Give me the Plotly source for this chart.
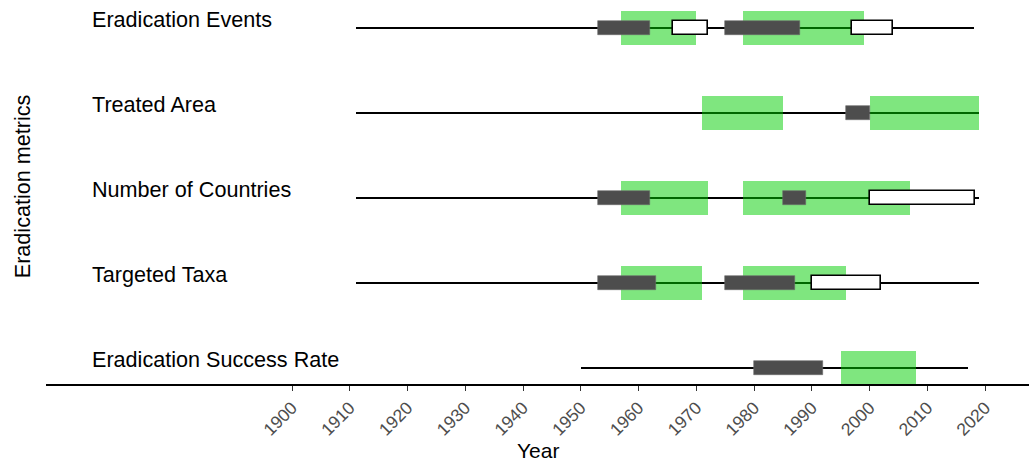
import plotly.graph_objects as go

# ---------------- data ----------------
metrics = ["Eradication Events", "Treated Area", "Number of Countries",
           "Targeted Taxa", "Eradication Success Rate"]
row_pos = [5, 4, 3, 2, 1]

line_start = [1911, 1911, 1911, 1911, 1950]
line_end = [2018, 2019, 2019, 2019, 2017]

green_metric = ["Eradication Events", "Eradication Events", "Treated Area", "Treated Area",
                "Number of Countries", "Number of Countries", "Targeted Taxa", "Targeted Taxa",
                "Eradication Success Rate"]
green_start = [1957, 1978, 1971, 2000, 1957, 1978, 1957, 1978, 1995]
green_end = [1970, 1999, 1985, 2019, 1972, 2007, 1971, 1996, 2008]

dark_metric = ["Eradication Events", "Eradication Events", "Treated Area",
               "Number of Countries", "Number of Countries", "Targeted Taxa", "Targeted Taxa",
               "Eradication Success Rate"]
dark_start = [1953, 1975, 1996, 1953, 1985, 1953, 1975, 1980]
dark_end = [1962, 1988, 2000, 1962, 1989, 1963, 1987, 1992]

white_metric = ["Eradication Events", "Eradication Events", "Number of Countries", "Targeted Taxa"]
white_start = [1966, 1997, 2000, 1990]
white_end = [1972, 2004, 2018.2, 2002]

year_ticks = list(range(1900, 2021, 10))

# ---------------- figure ----------------
pos = dict(zip(metrics, row_pos))
fig = go.Figure()

# thin timeline
fig.add_trace(go.Bar(
    orientation="h", y=row_pos, base=line_start,
    x=[e - s for s, e in zip(line_start, line_end)],
    width=0.025, marker=dict(color="black", line=dict(width=0)),
    showlegend=False, hoverinfo="skip"))

# green periods
fig.add_trace(go.Bar(
    orientation="h", y=[pos[m] for m in green_metric], base=green_start,
    x=[e - s for s, e in zip(green_start, green_end)],
    width=0.4, marker=dict(color="rgba(0,205,0,0.5)", line=dict(width=0)),
    showlegend=False, hoverinfo="skip"))

# dark periods
fig.add_trace(go.Bar(
    orientation="h", y=[pos[m] for m in dark_metric], base=dark_start,
    x=[e - s for s, e in zip(dark_start, dark_end)],
    width=0.155, marker=dict(color="#4d4d4d", line=dict(width=0.6, color="#6a6a6a")),
    showlegend=False, hoverinfo="skip"))

# white periods
fig.add_trace(go.Bar(
    orientation="h", y=[pos[m] for m in white_metric], base=white_start,
    x=[e - s for s, e in zip(white_start, white_end)],
    width=0.155, marker=dict(color="white", line=dict(width=1.6, color="black")),
    showlegend=False, hoverinfo="skip"))

# row labels
for m, p in zip(metrics, row_pos):
    fig.add_annotation(x=1865, y=p, text=m, showarrow=False, xanchor="left",
                       yanchor="middle", yshift=9,
                       font=dict(family="Liberation Sans, Arial", size=21.6, color="black"))

# axis titles as annotations
fig.add_annotation(xref="paper", yref="paper", x=0.5, y=-0.172, text="Year",
                   showarrow=False, xanchor="center", yanchor="middle",
                   font=dict(family="Liberation Sans, Arial", size=21, color="black"))
fig.add_annotation(xref="paper", yref="paper", x=-0.0244, y=0.515, text="Eradication metrics",
                   showarrow=False, textangle=-90, xanchor="center", yanchor="middle",
                   font=dict(family="Liberation Sans, Arial", size=21.6, color="black"))

fig.update_layout(
    width=1029, height=462,
    margin=dict(l=46, r=0, t=0, b=78),
    barmode="overlay", bargap=0,
    paper_bgcolor="white", plot_bgcolor="white",
    font=dict(family="Liberation Sans, Arial"),
    xaxis=dict(range=[1857.4, 2027.6], tickvals=year_ticks,
               ticktext=[str(t) for t in year_ticks], tickangle=-45,
               ticks="outside", ticklen=5, tickwidth=1, tickcolor="#333333",
               showline=True, linecolor="black", linewidth=1.5,
               showgrid=False, zeroline=False,
               tickfont=dict(size=17.5, color="#4d4d4d")),
    yaxis=dict(range=[0.812, 5.33], showticklabels=False, showgrid=False,
               zeroline=False, showline=False, ticks=""),
)

fig.write_html("out.html")
